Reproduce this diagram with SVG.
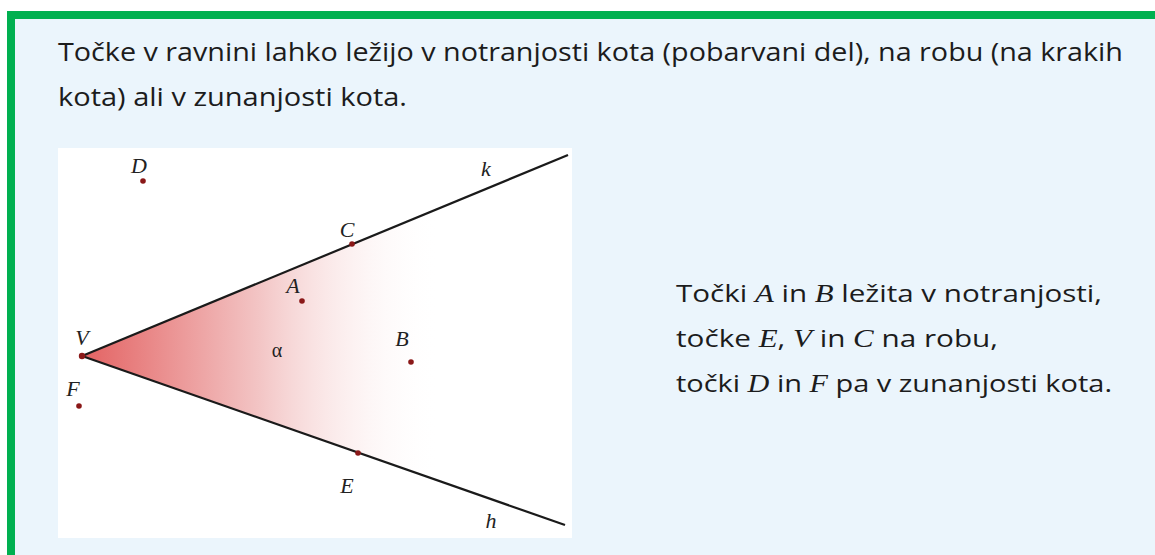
<svg xmlns="http://www.w3.org/2000/svg" width="1155" height="555" viewBox="0 0 1155 555">
<defs>
<style>
.txt{font-family:"Open Sans","Noto Sans",sans-serif;font-size:26px;fill:#1c1c1c}
.txt2{font-family:"Open Sans","Noto Sans",sans-serif;font-size:24px;fill:#1c1c1c}
.m{font-family:"Liberation Serif",serif;font-style:italic;font-size:25px}
.lbl{font-family:"Liberation Serif",serif;font-style:italic;font-size:22px;fill:#222;text-anchor:middle}
.ray{stroke:#1a1a1a;stroke-width:2.2;fill:none}
.pt{fill:#8a1818}
</style>
<linearGradient id="fade" gradientUnits="userSpaceOnUse" x1="82" y1="0" x2="440" y2="0">
<stop offset="0" stop-color="#e36262"/>
<stop offset="0.5" stop-color="#f3c6c6"/>
<stop offset="1" stop-color="#ffffff" stop-opacity="0"/>
</linearGradient>
</defs>
<rect x="0" y="0" width="1155" height="555" fill="#ffffff"/>
<rect x="7" y="11" width="1148" height="544" fill="#ebf5fc"/>
<rect x="7" y="11" width="1148" height="8" fill="#00b050"/>
<rect x="7" y="11" width="8" height="544" fill="#00b050"/>
<g id="intro">
<text class="txt" x="58" y="61" textLength="1065" lengthAdjust="spacingAndGlyphs">Točke v ravnini lahko ležijo v notranjosti kota (pobarvani del), na robu (na krakih</text>
<text class="txt" x="58" y="106" textLength="349" lengthAdjust="spacingAndGlyphs">kota) ali v zunanjosti kota.</text>
</g>
<g id="figure">
<rect x="58" y="148" width="514" height="390" fill="#ffffff"/>
<polygon points="82,356 568,155 565,525" fill="url(#fade)"/>
<g id="connectors">
<line class="ray" x1="82" y1="356" x2="568" y2="155"/>
<line class="ray" x1="82" y1="356" x2="565" y2="525"/>
</g>
<g id="pointV"><circle class="pt" cx="82" cy="356" r="3.2"/><text class="lbl" x="82" y="345">V</text></g>
<g id="pointC"><circle class="pt" cx="352" cy="244" r="2.8"/><text class="lbl" x="347" y="237">C</text></g>
<g id="pointA"><circle class="pt" cx="302" cy="301" r="2.8"/><text class="lbl" x="293" y="293">A</text></g>
<g id="pointB"><circle class="pt" cx="411" cy="362" r="2.8"/><text class="lbl" x="402" y="346">B</text></g>
<g id="pointE"><circle class="pt" cx="358" cy="453" r="2.8"/><text class="lbl" x="347" y="493">E</text></g>
<g id="pointD"><circle class="pt" cx="143" cy="181" r="2.8"/><text class="lbl" x="139" y="173">D</text></g>
<g id="pointF"><circle class="pt" cx="79" cy="406" r="2.8"/><text class="lbl" x="73" y="396">F</text></g>
<g id="labelK"><text class="lbl" x="486" y="176">k</text></g>
<g id="labelH"><text class="lbl" x="491" y="528">h</text></g>
<g id="alpha"><text x="277" y="357" font-family="Liberation Serif,serif" font-size="20" fill="#222" text-anchor="middle">α</text></g>
</g>
<g id="explanation">
<text class="txt2" x="676" y="302" textLength="426" lengthAdjust="spacingAndGlyphs">Točki <tspan class="m">A</tspan> in <tspan class="m">B</tspan> ležita v notranjosti,</text>
<text class="txt2" x="676" y="347" textLength="322" lengthAdjust="spacingAndGlyphs">točke <tspan class="m">E</tspan>, <tspan class="m">V</tspan> in <tspan class="m">C</tspan> na robu,</text>
<text class="txt2" x="676" y="392" textLength="436" lengthAdjust="spacingAndGlyphs">točki <tspan class="m">D</tspan> in <tspan class="m">F</tspan> pa v zunanjosti kota.</text>
</g>
</svg>
